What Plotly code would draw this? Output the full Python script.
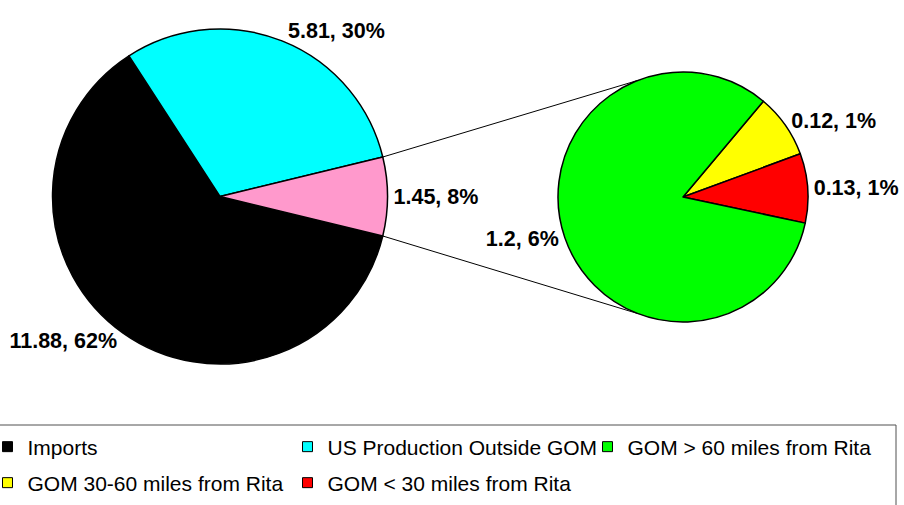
import math
import plotly.graph_objects as go

# ---------------- data ----------------
main_labels = ["Imports", "US Production Outside GOM", "GOM total"]
main_values = [11.88, 5.81, 1.45]
main_colors = ["#000000", "#00FFFF", "#FF99CC"]

sub_labels = ["GOM 30-60 miles from Rita", "GOM < 30 miles from Rita", "GOM > 60 miles from Rita"]
sub_values = [0.12, 0.13, 1.2]
sub_colors = ["#FFFF00", "#FF0000", "#00FF00"]

legend_names = ["Imports", "US Production Outside GOM", "GOM > 60 miles from Rita",
                "GOM 30-60 miles from Rita", "GOM < 30 miles from Rita"]
legend_colors = ["#000000", "#00FFFF", "#00FF00", "#FFFF00", "#FF0000"]

total = sum(main_values)

def label_text(v):
    return f"{v:g}, {round(v / total * 100)}%"

# ---------------- layout geometry (screen pixels) ----------------
W, H = 904, 505
OFF = 0  # body margin removed via post_script below
main_cx, main_cy, main_r = 220, 196.5, 167.5
sub_cx, sub_cy, sub_r = 683, 197, 125
connector_angle = 111  # degrees on the second pie where connector lines end
sub_rotation = 40
# legend slots: (symbol-centre x, row centre y) in screen pixels
legend_slots = [(6, 447), (306, 447), (606, 447), (6, 483), (306, 483)]
sym_offset = 18.5  # px from legend box left to symbol centre

def px(x):
    return (x - OFF) / W

def py(y):
    return 1 - (y - OFF) / H

def dom(cx, cy, r):
    return dict(x=[px(cx - r), px(cx + r)], y=[py(cy + r), py(cy - r)])

lab_font = dict(family="Liberation Sans, Arial, sans-serif", size=21.5, color="black", weight="bold")

# rotation so the "GOM total" slice is centred on 3 o'clock
frac_last = main_values[-1] / total
main_rotation = 90 + frac_last * 360 / 2

fig = go.Figure()
fig.add_trace(go.Pie(
    labels=main_labels, values=main_values, sort=False, direction="clockwise",
    rotation=main_rotation, domain=dom(main_cx, main_cy, main_r),
    marker=dict(colors=main_colors, line=dict(color="black", width=1.5)),
    text=[label_text(v) for v in main_values], textinfo="text", textposition="outside",
    outsidetextfont=lab_font, showlegend=False, hoverinfo="label+value",
))
fig.add_trace(go.Pie(
    labels=sub_labels, values=sub_values, sort=False, direction="clockwise",
    rotation=sub_rotation, domain=dom(sub_cx, sub_cy, sub_r),
    marker=dict(colors=sub_colors, line=dict(color="black", width=1.5)),
    text=[label_text(v) for v in sub_values], textinfo="text", textposition="outside",
    outsidetextfont=lab_font, showlegend=False, hoverinfo="label+value",
))

leg_font = dict(family="Liberation Sans, Arial, sans-serif", size=21, color="black")
legends = {}
for i, (name, col) in enumerate(zip(legend_names, legend_colors)):
    key = "legend" if i == 0 else f"legend{i + 1}"
    fig.add_trace(go.Scatter(x=[None], y=[None], mode="markers", name=name, legend=key,
                             marker=dict(symbol="square", size=10, color=col,
                                         line=dict(color="black", width=1))))
    sx, sy = legend_slots[i]
    legends[key] = dict(orientation="h", font=leg_font, xanchor="left", yanchor="middle",
                        itemwidth=30, bgcolor="rgba(0,0,0,0)", borderwidth=0,
                        x=px(sx - sym_offset), y=py(sy))

# connector lines from the GOM slice edges to the second pie
half = frac_last * math.pi  # half-angle of GOM slice (radians)
shapes = []
for sgn in (1, -1):
    x0 = main_cx + main_r * math.cos(half)
    y0 = main_cy - sgn * main_r * math.sin(half)
    a = math.radians(connector_angle)
    x1 = sub_cx + sub_r * math.cos(a)
    y1 = sub_cy - sgn * sub_r * math.sin(a)
    shapes.append(dict(type="line", xref="paper", yref="paper",
                       x0=px(x0), y0=py(y0), x1=px(x1), y1=py(y1),
                       line=dict(color="black", width=1), layer="below"))
# legend frame
shapes.append(dict(type="rect", xref="paper", yref="paper",
                   x0=px(-5), x1=px(896), y0=py(530), y1=py(425),
                   line=dict(color="#505050", width=1), fillcolor="rgba(0,0,0,0)"))

fig.update_layout(
    width=W, height=H, margin=dict(l=0, r=0, t=0, b=0, autoexpand=False),
    paper_bgcolor="white", plot_bgcolor="white",
    xaxis=dict(visible=False), yaxis=dict(visible=False),
    shapes=shapes,
    **legends,
)

fig.write_html("out.html", config={"displayModeBar": False},
               post_script="document.body.style.margin='0';")
